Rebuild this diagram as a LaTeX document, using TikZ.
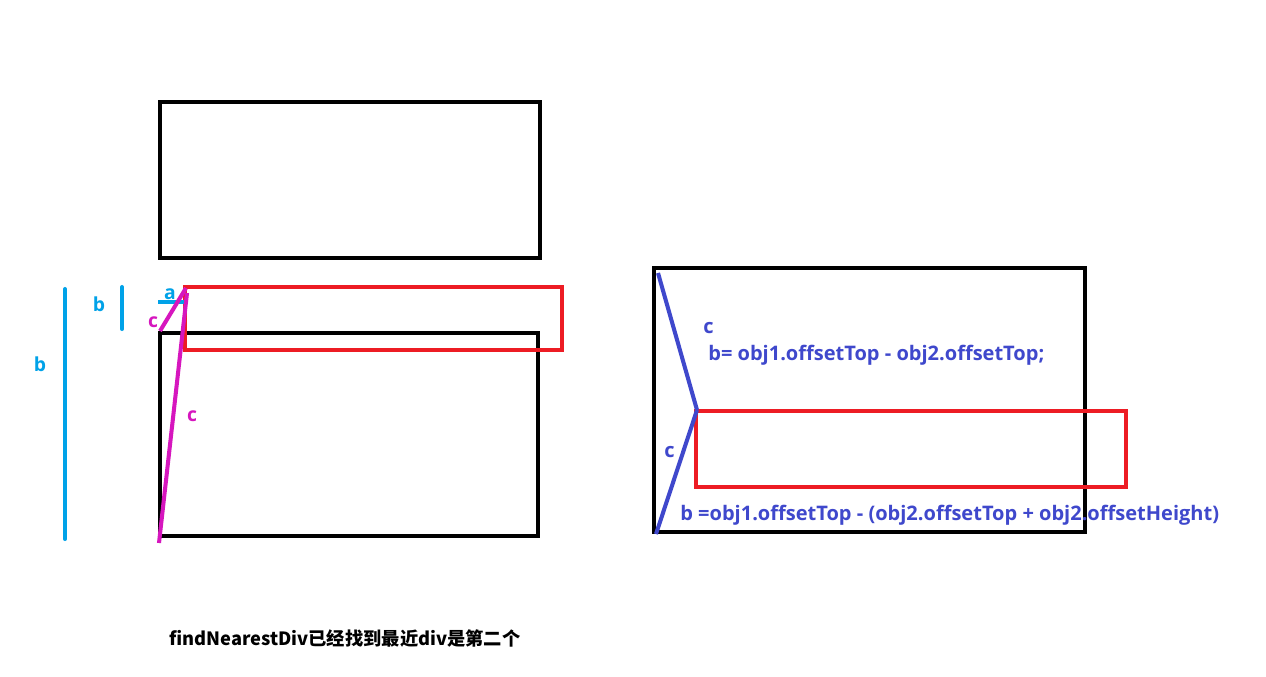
\documentclass[tikz,border=0pt]{standalone}
\usepackage{fontspec}
\setmainfont{Open Sans}
\newfontfamily\cjkfont{Noto Sans CJK SC}
\usetikzlibrary{positioning}

\definecolor{boxred}{RGB}{237,28,36}
\definecolor{lineblue}{RGB}{0,162,232}
\definecolor{linepink}{RGB}{214,22,190}
\definecolor{lineindigo}{RGB}{63,72,204}

\begin{document}
\begin{tikzpicture}[
      x=0.02cm, y=-0.02cm,
      blackbox/.style={draw=black, line width=2.3pt},
      redbox/.style={draw=boxred, line width=2.3pt},
      bline/.style={lineblue, line width=2.3pt},
      pline/.style={linepink, line width=2.3pt},
      iline/.style={lineindigo, line width=2.3pt},
      blabel/.style={font=\bfseries\fontsize{11}{13}\selectfont, text=lineblue, inner sep=0pt},
      plabel/.style={font=\bfseries\fontsize{11}{13}\selectfont, text=linepink, inner sep=0pt},
      ilabel/.style={font=\bfseries\fontsize{11.4}{13}\selectfont, text=lineindigo, inner sep=0pt, anchor=west}
      ]
      \useasboundingbox[fill=white] (0,0) rectangle (1266,676);
      % boxes
      \draw[blackbox] (160,102) rectangle (540,258);
      \draw[blackbox] (160,333) rectangle (538,536);
      \draw[redbox] (185,287) rectangle (562,350);
      \draw[blackbox] (654,268) rectangle (1085,532);
      \draw[redbox] (696,411) rectangle (1126,487);
      % left side measures
      \coordinate (b1t) at (65,289);
      \coordinate (b1b) at (65,539);
      \coordinate (b2t) at (122,287);
      \coordinate (b2b) at (122,329);
      \coordinate (al) at (158,302);
      \coordinate (ar) at (185,302);
      \draw[bline,line cap=round] (b1t) -- (b1b);
      \draw[bline,line cap=round] (b2t) -- (b2b);
      \draw[bline] (al) -- (ar);
      \node[blabel] (lb1) at (40,364) {b};
      \node[blabel] (lb2) at (99,304) {b};
      \node[blabel] (la) at (170,294) {a};
      % pink hypotenuses
      \coordinate (p1) at (160,331);
      \coordinate (p2) at (186,288);
      \coordinate (p3) at (159,543);
      \coordinate (p4) at (187,293);
      \draw[pline] (p1) -- (p2);
      \draw[pline] (p3) -- (p4);
      \node[plabel] (lc1) at (153,322) {c};
      \node[plabel] (lc2) at (192,416) {c};
      % right side
      \coordinate (q1) at (658,273);
      \coordinate (q2) at (697,410);
      \coordinate (q3) at (656,534);
      \draw[iline] (q1) -- (q2);
      \draw[iline] (q2) -- (q3);
      \node[ilabel] (rc1) at (703,328) {c};
      \node[ilabel] (rc2) at (664,452) {c};
      \node[ilabel] (f1) at (708,355) {b= obj1.offsetTop - obj2.offsetTop;};
      \node[ilabel] (f2) at (680,515) {b =obj1.offsetTop - (obj2.offsetTop + obj2.offsetHeight)};
      % caption
      \node[font=\cjkfont\bfseries\fontsize{10.4}{12}\selectfont, anchor=west, inner sep=0pt] (cap) at (169,638) {findNearestDiv已经找到最近div是第二个};
\end{tikzpicture}
\end{document}
